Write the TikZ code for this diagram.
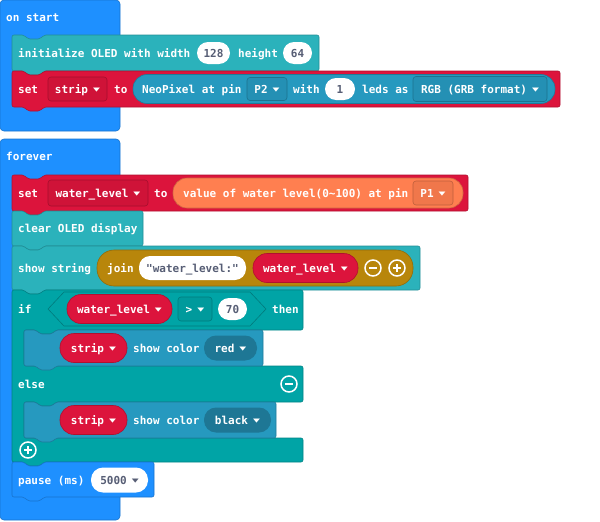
\documentclass[tikz,border=0pt]{standalone}
\usepackage{fontspec}
\usepackage{tikz}
\usetikzlibrary{positioning}
\newfontfamily\blockfont{DejaVu Sans Mono}
\newfontfamily\symfont{DejaVu Sans}
\definecolor{basic}{HTML}{1E90FF}
\definecolor{oled}{HTML}{2BB2BB}
\definecolor{varred}{HTML}{DC143C}
\definecolor{neo}{HTML}{2699BF}
\definecolor{sensor}{HTML}{FF7F50}
\definecolor{gold}{HTML}{B8860B}
\definecolor{logic}{HTML}{00A4A6}
\definecolor{txtgray}{HTML}{575E75}
\newcommand{\bfont}{\blockfont\bfseries\fontsize{11}{13}\selectfont}
\newcommand{\dd}{\hspace{5pt}{\symfont\fontsize{9}{8}\selectfont\raisebox{1.5pt}{\scalebox{1}[0.6]{▼}}}}
% statement block with notch: x, y, width, height, colour
\newcommand{\stmtblock}[5]{%
  \draw[blk=#5] (#1,#2) -- ++(12,0) -- ++(4,4) -- ++(12,0) -- ++(4,-4)
    -- (#1+#3,#2) -- (#1+#3,#2+#4) -- (#1+32,#2+#4) -- ++(-4,4) -- ++(-12,0)
    -- ++(-4,-4) -- (#1,#2+#4) -- cycle;}
\tikzset{
  % blocks
  blk/.style={fill=#1,draw=#1!80!black,line width=0.6,rounded corners=2},
  txt/.style={inner sep=0,text height=10.5,text depth=2,font=\bfont},
  lbl/.style={txt,anchor=west,text=white},
  % inputs
  oval/.style={txt,fill=white,rounded corners=11,minimum height=22,text=txtgray},
  pill/.style={fill=#1,draw=#1!80!black,line width=0.6,rounded corners=14,inner sep=0},
  rpill/.style={txt,pill=varred,minimum height=29,text=white},
  ddbox/.style={txt,fill=#1!94!black,draw=#1!75!black,line width=0.6,rounded corners=3,text=white},
  darkpill/.style={txt,fill=neo!78!black,rounded corners=12,minimum height=25,text=white},
  btn/.style={circle,draw=white,line width=1.5,minimum size=16,inner sep=0},
  btnline/.style={white,line width=2}
}
\begin{document}
\begin{tikzpicture}[x=1pt,y=-1pt]
  \useasboundingbox (0,0) rectangle (600,522);
  % on start
  \draw[blk=basic,rounded corners=4] (0,0) rectangle (120,131);
  \node[lbl] (onstart) at (6,17) {on start};
  \stmtblock{12}{35}{307}{36}{oled}
  \node[lbl] (init) at (18,53) {initialize OLED with width};
  \node[oval,minimum width=33] (wval) at (213.5,53) {128};
  \node[lbl] (hlbl) at (238,53) {height};
  \node[oval,minimum width=29] (hval) at (297.5,53) {64};
  \stmtblock{12}{71}{548}{36}{varred}
  \node[lbl] (set1) at (18,89) {set};
  \node[ddbox=varred,minimum width=59,minimum height=24] (stripvar) at (77.5,89) {strip\dd};
  \node[lbl] (to1) at (114,89) {to};
  \node[pill=neo,minimum width=422,minimum height=29] (neopix) at (344,89) {};
  \node[lbl] (neotxt) at (142,89) {NeoPixel at pin};
  \node[ddbox=neo,minimum width=40,minimum height=23] (pin2) at (267,89) {P2\dd};
  \node[lbl] (with) at (293,89) {with};
  \node[oval,minimum width=30] (nleds) at (340,89) {1};
  \node[lbl] (ledsas) at (362,89) {leds as};
  \node[ddbox=neo,minimum width=134,minimum height=25] (fmt) at (480,89) {RGB (GRB format)\dd};

  % forever
  \draw[blk=basic,rounded corners=4] (0,139) rectangle (120,520);
  \node[lbl] (forever) at (6,156) {forever};
  \stmtblock{12}{175}{456}{36}{varred}
  \node[lbl] (set2) at (18,193) {set};
  \node[ddbox=varred,minimum width=100,minimum height=26] (wlvar) at (98,193) {water\_level\dd};
  \node[lbl] (to2) at (154,193) {to};
  \node[pill=sensor,minimum width=290,minimum height=30] (sens) at (318,193) {};
  \node[lbl] (senstxt) at (183,193) {value of water level(0\string~100) at pin};
  \node[ddbox=sensor,minimum width=40,minimum height=24] (pin1) at (433,193) {P1\dd};
  \stmtblock{12}{211}{131}{35}{oled}
  \node[lbl] (clear) at (18,228) {clear OLED display};
  \stmtblock{12}{246}{408}{44}{oled}
  \node[lbl] (show) at (18,268) {show string};
  \node[pill=gold,minimum width=316,minimum height=36,rounded corners=17] (join) at (255,268) {};
  \node[lbl] (jointxt) at (107,268) {join};
  \node[oval,minimum width=107,minimum height=24] (str) at (192.5,268) {"water\_level:"};
  \node[rpill,minimum width=105] (wl2) at (305.5,268) {water\_level\dd};

  % if / else
  \draw[blk=logic] (12,290) -- (24,290) -- (28,294) -- (40,294) -- (44,290) -- (303,290)
    -- (303,330) -- (56,330) -- (52,334) -- (40,334) -- (36,330) -- (24,330) -- (24,366)
    -- (303,366) -- (303,402) -- (56,402) -- (52,406) -- (40,406) -- (36,402) -- (24,402)
    -- (24,438) -- (303,438) -- (303,462) -- (44,462) -- (40,466) -- (28,466) -- (24,462)
    -- (12,462) -- cycle;
  \draw[fill=logic,draw=logic!75!black,line width=0.6] (48,309) -- (64,292) -- (250,292)
    -- (266,309) -- (250,326) -- (64,326) -- cycle;
  \node[lbl] (iftxt) at (18,309) {if};
  \node[rpill,minimum width=105] (wl3) at (119.5,309) {water\_level\dd};
  \node[ddbox=logic,minimum width=34,minimum height=24] (gt) at (195,309) {>\dd};
  \node[oval,minimum width=29] (thr) at (232.5,309) {70};
  \node[lbl] (then) at (272,309) {then};
  \stmtblock{24}{330}{239}{36}{neo}
  \node[rpill,minimum width=67] (strip1) at (93.5,348) {strip\dd};
  \node[lbl] (sc1) at (133,348) {show color};
  \node[darkpill,minimum width=53] (red) at (230.5,348) {red\dd};
  \node[lbl] (elsetxt) at (18,384) {else};
  \stmtblock{24}{402}{252}{36}{neo}
  \node[rpill,minimum width=67] (strip2) at (93.5,420) {strip\dd};
  \node[lbl] (sc2) at (133,420) {show color};
  \node[darkpill,minimum width=67] (black) at (237.5,420) {black\dd};

  % pause
  \stmtblock{12}{462}{142}{35}{basic}
  \node[lbl] (pause) at (18,480) {pause (ms)};
  \node[oval,minimum width=57,minimum height=25,rounded corners=12] (ms) at (119.5,480) {5000\dd};

  \foreach \n/\px/\py/\s in {jminus/373/268/0, jplus/397/268/1, elseminus/289/384/0, ifplus/28/450/1}{
    \node[btn] (\n) at (\px,\py) {};
    \draw[btnline] ([xshift=-4]\n.center) -- ([xshift=4]\n.center);
    \ifnum\s=1 \draw[btnline] ([yshift=-4]\n.center) -- ([yshift=4]\n.center); \fi
  }
\end{tikzpicture}
\end{document}
